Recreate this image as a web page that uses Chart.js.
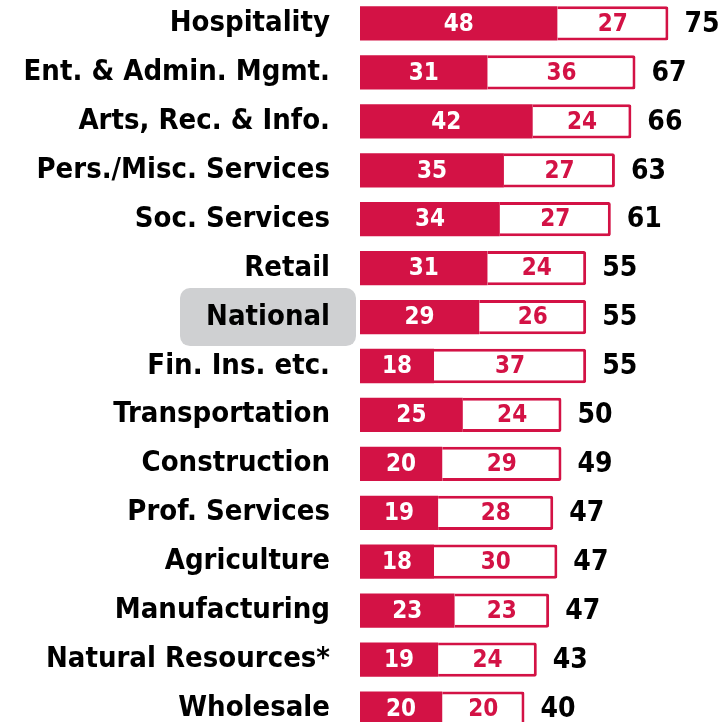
<!DOCTYPE html>
<html>
<head>
<meta charset="utf-8">
<script src="https://cdn.jsdelivr.net/npm/chart.js@4"></script>
<style>
  html, body { margin: 0; padding: 0; background: #fff; overflow: hidden; }
  #wrap { position: absolute; left: 0; top: -1px; width: 728px; height: 734px; }
</style>
</head>
<body>
<div id="wrap"><canvas id="chart"></canvas></div>
<script>
// categorias e valores
const categories = ['Hospitality', 'Ent. & Admin. Mgmt.', 'Arts, Rec. & Info.', 'Pers./Misc. Services',
  'Soc. Services', 'Retail', 'National', 'Fin. Ins. etc.', 'Transportation', 'Construction',
  'Prof. Services', 'Agriculture', 'Manufacturing', 'Natural Resources*', 'Wholesale'];
const firstPart = [48, 31, 42, 35, 34, 31, 29, 18, 25, 20, 19, 18, 23, 19, 20];
const secondPart = [27, 36, 24, 27, 27, 24, 26, 37, 24, 29, 28, 30, 23, 24, 20];
const totals = [75, 67, 66, 63, 61, 55, 55, 55, 50, 49, 47, 47, 47, 43, 40];
const highlighted = 'National';

const crimson = '#d31245';
const fontName = '"DejaVu Sans Condensed", "DejaVu Sans"';

// Fundo cinza atrás do rótulo destacado
const highlightBox = {
  id: 'highlightBox',
  beforeDraw(chart) {
    const ctx = chart.ctx;
    const y = chart.scales.y;
    const idx = categories.indexOf(highlighted);
    const cy = y.getPixelForValue(idx);
    const x0 = 180, x1 = 356, h = 58;
    ctx.save();
    ctx.fillStyle = '#cfd0d2';
    ctx.beginPath();
    ctx.roundRect(x0, cy - h / 2, x1 - x0, h, 10);
    ctx.fill();
    ctx.restore();
  }
};

// Rótulos dos valores dentro das barras e totais
const valueLabels = {
  id: 'valueLabels',
  afterDatasetsDraw(chart) {
    const ctx = chart.ctx;
    ctx.save();
    ctx.textBaseline = 'middle';
    ctx.textAlign = 'center';
    ctx.font = `bold 24px ${fontName}`;
    chart.data.datasets.forEach((ds, di) => {
      const meta = chart.getDatasetMeta(di);
      meta.data.forEach((bar, i) => {
        const cx = (bar.x + bar.base) / 2;
        ctx.fillStyle = di === 0 ? '#ffffff' : crimson;
        ctx.fillText(ds.data[i], cx, bar.y + 1);
      });
    });
    const last = chart.getDatasetMeta(1);
    ctx.textAlign = 'left';
    ctx.fillStyle = '#000';
    ctx.font = `bold 28px ${fontName}`;
    last.data.forEach((bar, i) => {
      ctx.fillText(totals[i], bar.x + 16, bar.y + 1);
    });
    ctx.restore();
  }
};

function createChart() {
  const ctx = document.getElementById('chart').getContext('2d');
  new Chart(ctx, {
    type: 'bar',
    data: {
      labels: categories,
      datasets: [{
        data: firstPart,
        backgroundColor: crimson,
        borderWidth: 0,
        categoryPercentage: 1,
        barPercentage: 0.7
      }, {
        data: secondPart,
        backgroundColor: '#ffffff',
        borderColor: crimson,
        borderWidth: 3,
        borderRadius: 2,
        borderSkipped: 'left',
        categoryPercentage: 1,
        barPercentage: 0.7
      }]
    },
    options: {
      indexAxis: 'y',
      responsive: true,
      maintainAspectRatio: false,
      animation: false,
      layout: { padding: 0 },
      plugins: {
        legend: { display: false },
        tooltip: { enabled: false }
      },
      scales: {
        x: {
          stacked: true,
          display: false,
          min: 0,
          max: 89.5
        },
        y: {
          stacked: true,
          grid: { display: false, drawTicks: false },
          border: { display: false },
          afterFit(scale) {
            scale.width = 360;
            scale.paddingTop = 0;
            scale.paddingBottom = 0;
          },
          ticks: {
            color: '#000',
            padding: 30,
            font: { family: fontName, size: 29, weight: 'bold' }
          }
        }
      }
    },
    plugins: [highlightBox, valueLabels]
  });
}

window.onload = createChart;
</script>
</body>
</html>
